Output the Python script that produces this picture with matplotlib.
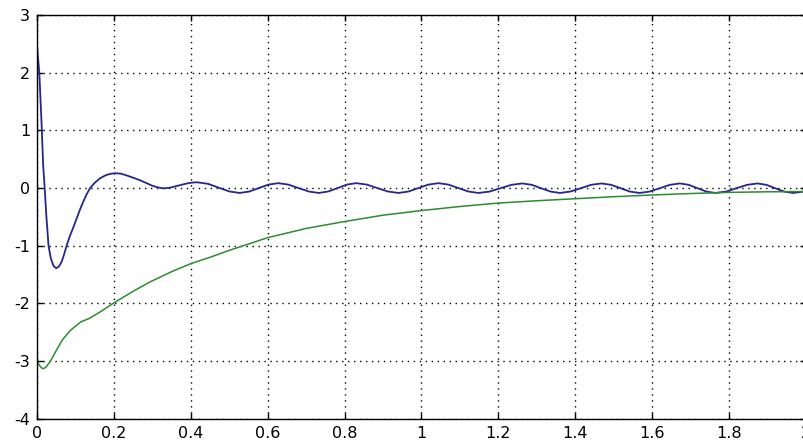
import matplotlib
matplotlib.use("Agg")
import matplotlib.pyplot as plt

# Blue response
blue_x = [0.000, 0.006, 0.012, 0.016, 0.020, 0.024, 0.030, 0.036, 0.043, 0.050, 0.057,
          0.064, 0.070, 0.077, 0.085, 0.094, 0.103, 0.112, 0.120, 0.129, 0.138, 0.150,
          0.164, 0.178, 0.190, 0.203, 0.218, 0.235, 0.252, 0.268, 0.285, 0.300, 0.315,
          0.330, 0.345, 0.360, 0.375, 0.390, 0.404, 0.417,
          0.445, 0.472, 0.500, 0.527, 0.552, 0.577, 0.602, 0.627,
          0.654, 0.680, 0.707, 0.733, 0.757, 0.782, 0.806, 0.830,
          0.858, 0.885, 0.913, 0.940, 0.966, 0.992, 1.018, 1.044,
          1.070, 1.096, 1.122, 1.148, 1.177, 1.205, 1.234, 1.262,
          1.287, 1.311, 1.336, 1.360, 1.387, 1.414, 1.441, 1.468,
          1.493, 1.518, 1.542, 1.567, 1.593, 1.620, 1.646, 1.672,
          1.695, 1.718, 1.741, 1.764, 1.792, 1.819, 1.847, 1.874,
          1.897, 1.920, 1.943, 1.966, 1.985, 2.000]
blue_y = [2.46, 2.00, 1.10, 0.40, 0.00, -0.45, -1.00, -1.22, -1.35, -1.39, -1.36,
          -1.28, -1.16, -1.00, -0.84, -0.69, -0.53, -0.37, -0.24, -0.11, 0.00, 0.09,
          0.17, 0.22, 0.245, 0.257, 0.25, 0.215, 0.175, 0.135, 0.085, 0.04, 0.01,
          -0.005, 0.005, 0.03, 0.055, 0.08, 0.095, 0.10,
          0.073, 0.008, -0.058, -0.085, -0.060, 0.000, 0.060, 0.085,
          0.060, 0.000, -0.060, -0.085, -0.060, 0.000, 0.060, 0.085,
          0.060, 0.000, -0.060, -0.085, -0.060, 0.000, 0.060, 0.085,
          0.060, 0.000, -0.060, -0.085, -0.061, -0.003, 0.056, 0.080,
          0.056, -0.003, -0.061, -0.085, -0.061, -0.003, 0.056, 0.080,
          0.056, -0.003, -0.061, -0.085, -0.061, -0.003, 0.056, 0.080,
          0.056, -0.003, -0.061, -0.085, -0.061, -0.003, 0.056, 0.080,
          0.056, -0.003, -0.061, -0.085, -0.070, -0.050]

# Green response
green_x = [0.000, 0.005, 0.012, 0.018, 0.025, 0.035, 0.049, 0.066, 0.088, 0.114, 0.136,
           0.166, 0.200, 0.250, 0.293, 0.350, 0.400, 0.450, 0.500, 0.600, 0.700, 0.800,
           0.900, 1.000, 1.100, 1.200, 1.300, 1.400, 1.500, 1.600, 1.700, 1.800, 1.900, 2.000]
green_y = [-2.98, -3.06, -3.12, -3.13, -3.09, -3.00, -2.83, -2.63, -2.46, -2.32, -2.26,
           -2.14, -1.99, -1.79, -1.63, -1.45, -1.31, -1.20, -1.08, -0.86, -0.70, -0.58,
           -0.47, -0.39, -0.32, -0.26, -0.22, -0.185, -0.15, -0.12, -0.095, -0.075, -0.065, -0.06]

x_ticks = [0, 0.2, 0.4, 0.6, 0.8, 1.0, 1.2, 1.4, 1.6, 1.8, 2.0]
x_tick_labels = ["0", "0.2", "0.4", "0.6", "0.8", "1", "1.2", "1.4", "1.6", "1.8", "2"]
y_ticks = [-4, -3, -2, -1, 0, 1, 2, 3]
y_tick_labels = ["-4", "-3", "-2", "-1", "0", "1", "2", "3"]

plt.rcParams['font.family'] = ['DejaVu Sans']

fig = plt.figure(figsize=(8.04, 4.41), dpi=100)
W, H = 804.0, 441.0
left_px, right_px, top_px, bottom_px = 37.0, 806.0, 15.0, 418.8
ax = fig.add_axes([left_px / W, (H - bottom_px) / H,
                   (right_px - left_px) / W, (bottom_px - top_px) / H])

ax.plot(blue_x, blue_y, color='#26268c', lw=1.3)
ax.plot(green_x, green_y, color='#2e8b2e', lw=1.1)

ax.set_xlim(0, 2)
ax.set_ylim(-4, 3)
ax.set_xticks(x_ticks)
ax.set_xticklabels(x_tick_labels)
ax.set_yticks(y_ticks)
ax.set_yticklabels(y_tick_labels)

ax.grid(True, color='black', linestyle=(0, (1, 3.3)), linewidth=1.0)
ax.tick_params(direction='in', length=4, width=1, top=True, right=True,
               labelsize=11.5, pad=5, colors='black')
for s in ax.spines.values():
    s.set_linewidth(1.0)
    s.set_color('black')

fig.savefig('out.png', dpi=100)
